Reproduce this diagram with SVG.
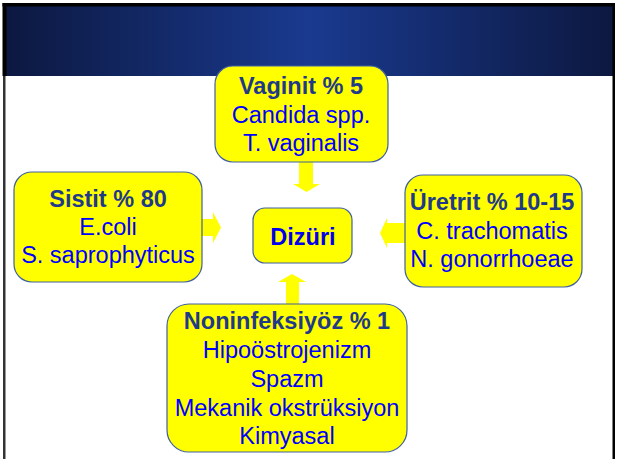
<svg xmlns="http://www.w3.org/2000/svg" width="618" height="459" viewBox="0 0 618 459">
<defs>
<linearGradient id="hdr" x1="0" y1="0" x2="1" y2="0">
<stop offset="0" stop-color="#0c1840"/>
<stop offset="0.5" stop-color="#1a3a8f"/>
<stop offset="1" stop-color="#0c1840"/>
</linearGradient>
<style>
.box{fill:#ffff00;stroke:#4060a0;stroke-width:1.2}
.arr{fill:#ffff00;stroke:none}
text{font-family:"Liberation Sans",Arial,sans-serif;font-size:23.5px;text-anchor:middle}
.h{font-weight:bold;fill:#1f3a88}
.t{fill:#0000ff}
.c{font-weight:bold;fill:#0000ee}
</style>
</defs>
<rect x="0" y="0" width="618" height="459" fill="#ffffff"/>
<rect x="6" y="6" width="607" height="70" fill="url(#hdr)"/>
<rect x="2.5" y="3" width="4" height="73" fill="#000000"/>
<rect x="3" y="76" width="2.5" height="383" fill="#333333"/>
<rect x="2.5" y="3" width="612.5" height="3.5" fill="#000000"/>
<rect x="612.5" y="3" width="2.5" height="456" fill="#000000"/>
<g id="connectors">
<polygon class="arr" points="299,161 313,161 313,184 320,184 306.5,192 293,184 299,184"/>
<polygon class="arr" points="201,219 213,219 213,212 221,227.5 213,243 213,236 201,236"/>
<polygon class="arr" points="406,223 387,223 387,218 380,233 387,248 387,243 406,243"/>
<polygon class="arr" points="286,305 286,282 278,282 292,274 306,282 299,282 299,305"/>
</g>
<g id="vaginit">
<rect class="box" x="215" y="66" width="173" height="96" rx="18"/>
<text class="h" x="301" y="94">Vaginit % 5</text>
<text class="t" x="301" y="123">Candida spp.</text>
<text class="t" x="301" y="151">T. vaginalis</text>
</g>
<g id="sistit">
<rect class="box" x="14" y="172" width="188" height="110" rx="18"/>
<text class="h" x="108" y="207">Sistit % 80</text>
<text class="t" x="108" y="235">E.coli</text>
<text class="t" x="108" y="263">S. saprophyticus</text>
</g>
<g id="dizuri">
<rect class="box" x="253" y="208" width="99" height="55" rx="12"/>
<text class="c" x="303" y="245">Dizüri</text>
</g>
<g id="uretrit">
<rect class="box" x="405" y="175" width="177" height="112" rx="18"/>
<text class="h" x="492" y="210">Üretrit % 10-15</text>
<text class="t" x="492" y="239">C. trachomatis</text>
<text class="t" x="492" y="267">N. gonorrhoeae</text>
</g>
<g id="noninfeksiyoz">
<rect class="box" x="167" y="304" width="240" height="148" rx="22"/>
<text class="h" x="287" y="329">Noninfeksiyöz % 1</text>
<text class="t" x="287" y="358">Hipoöstrojenizm</text>
<text class="t" x="287" y="387">Spazm</text>
<text class="t" x="287" y="416">Mekanik okstrüksiyon</text>
<text class="t" x="287" y="444">Kimyasal</text>
</g>
</svg>
